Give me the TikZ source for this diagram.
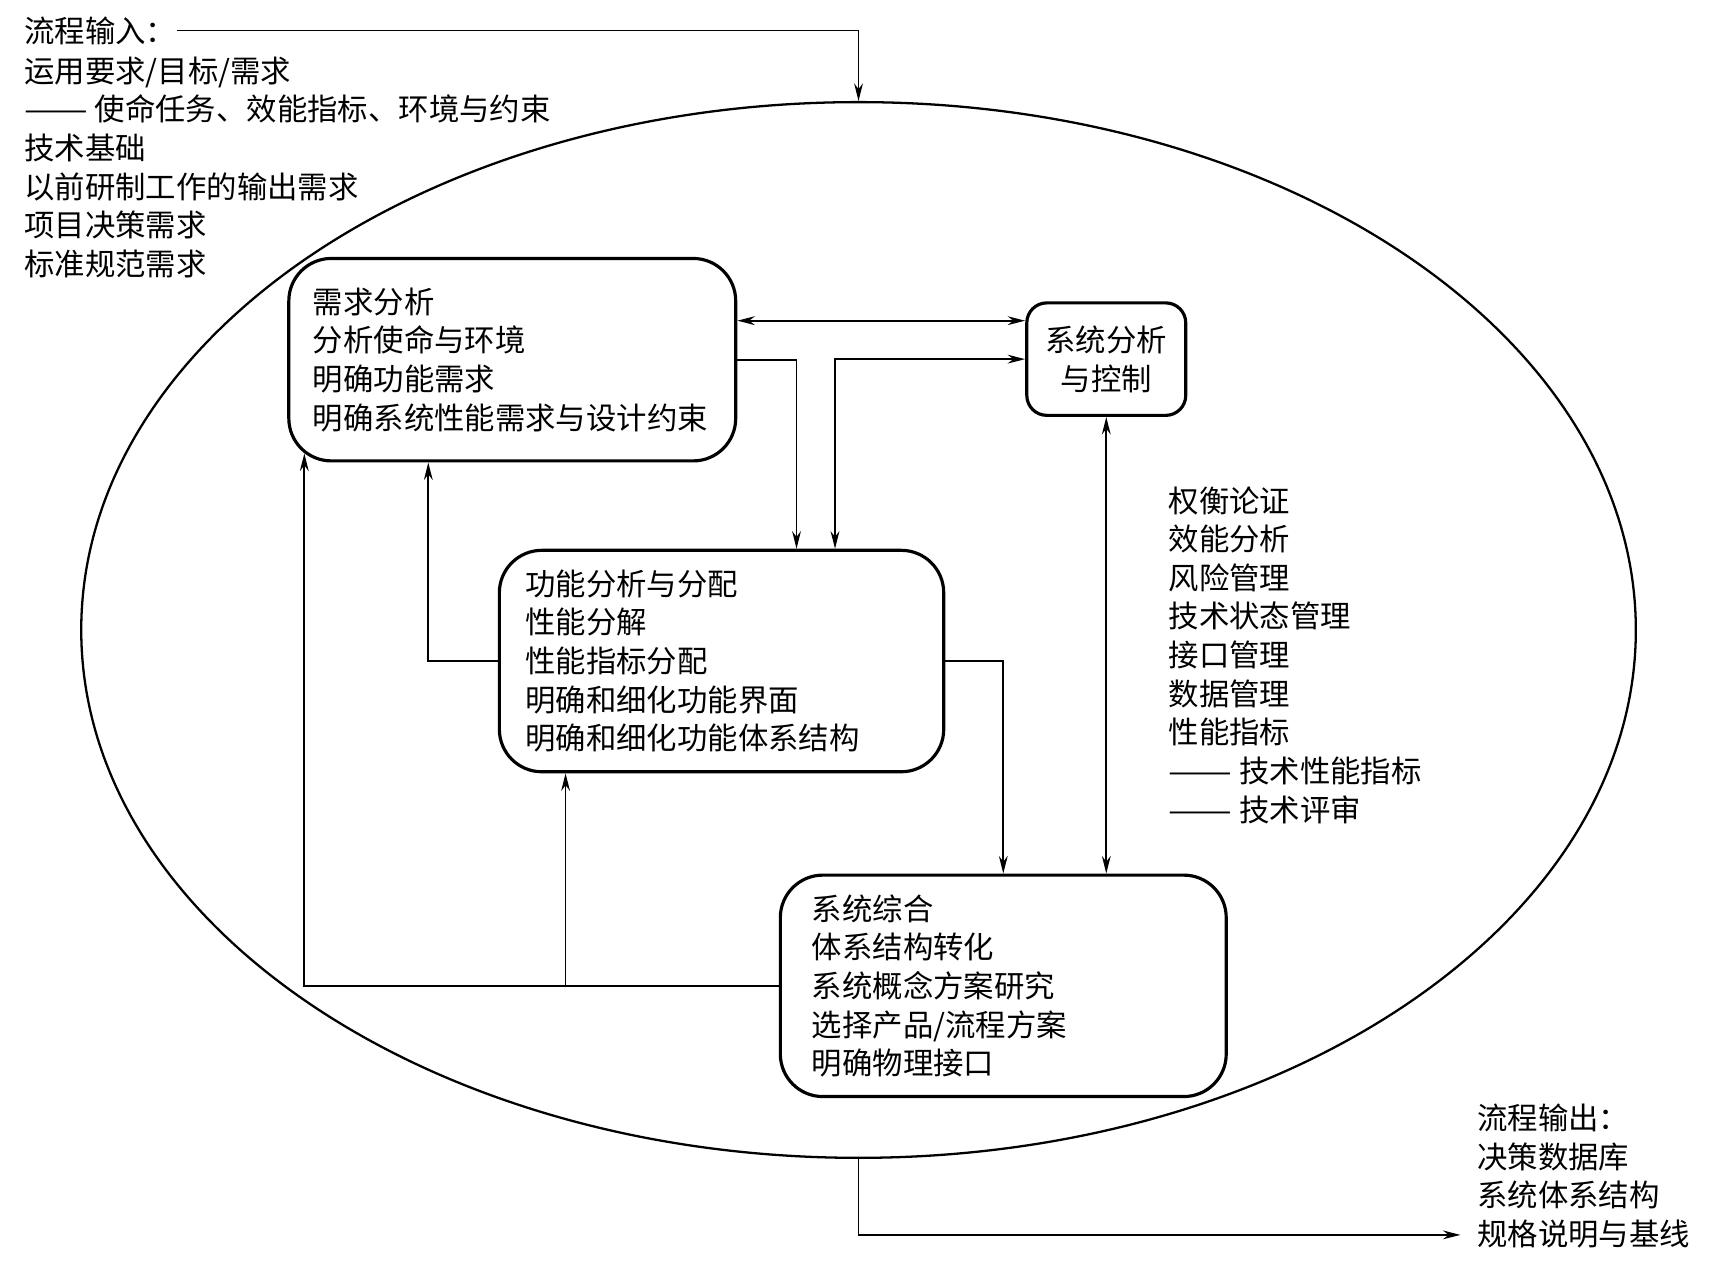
\documentclass[tikz,border=0pt]{standalone}
\usepackage{fontspec}
\setmainfont{Noto Sans CJK SC}
\usetikzlibrary{arrows.meta,shapes.geometric}

\newcommand\diagsize{\fontsize{17.3pt}{22pt}\selectfont}
\newcommand\longdash{\scalebox{1.25}[1]{——}}

\tikzset{
  procbox/.style={draw, line width=1.8pt, rounded corners=0.85cm, align=left, inner ysep=0pt},
  conn/.style={line width=1pt},
  textlist/.style={align=left, inner sep=0pt, anchor=west}
}

\begin{document}
\begin{tikzpicture}[x=0.0218cm, y=-0.0218cm, >={Stealth[length=10pt,width=5pt]},
    every node/.style={font=\diagsize}]
    \useasboundingbox (0,0) rectangle (1568,1167);

    % process boundary
    \node[ellipse, draw, line width=1.3pt, minimum width=31.1cm, minimum height=21.12cm,
      inner sep=0pt] (proc) at (787.7,578) {};

    % inputs and outputs
    \node[textlist] (intitle) at (22,28) {流程输入：};
    \node[textlist] (inlist) at (22,153.5) {运用要求/目标/需求\\
      \longdash{} 使命任务、效能指标、环境与约束\\
      技术基础\\
      以前研制工作的输出需求\\
      项目决策需求\\
      标准规范需求};
    \node[textlist] (outlist) at (1355,1079) {流程输出：\\
      决策数据库\\
      系统体系结构\\
      规格说明与基线};
    \coordinate (outend) at (1340,1133);

    % main steps
    \node[procbox, text width=7.98cm, inner xsep=0.48cm, minimum height=4.05cm] (req) at (470,330)
      {需求分析\\分析使命与环境\\明确功能需求\\明确系统性能需求与设计约束};
    \node[procbox, text width=7.85cm, inner xsep=0.52cm, minimum height=4.43cm] (func) at (662,606.5)
      {功能分析与分配\\性能分解\\性能指标分配\\明确和细化功能界面\\明确和细化功能体系结构};
    \node[procbox, text width=7.66cm, inner xsep=0.63cm, minimum height=4.43cm] (synth) at (920.5,904.5)
      {系统综合\\体系结构转化\\系统概念方案研究\\选择产品/流程方案\\明确物理接口};
    \node[procbox, align=center, rounded corners=0.4cm, minimum width=3.18cm, minimum height=2.25cm,
      inner xsep=0pt] (sactl) at (1015,329.5) {系统分析\\与控制};

    \node[textlist] (tradelist) at (1072,601) {权衡论证\\
      效能分析\\
      风险管理\\
      技术状态管理\\
      接口管理\\
      数据管理\\
      性能指标\\
      \longdash{} 技术性能指标\\
      \longdash{} 技术评审};

    % connections
    \draw[conn,->] (intitle.east) -| (proc.north);
    \draw[conn,->] (proc.south) |- (outend);
    \draw[conn,<->] ([yshift=0.78cm]req.east) -- ([yshift=0.78cm]req.east -| sactl.west);
    \draw[conn,->] (req.east) -| ([xshift=1.5cm]func.north);
    \draw[conn,<->] ([xshift=2.27cm]func.north) |- (sactl.west);
    \draw[conn,->] (func.west) -| ([xshift=-1.68cm]req.south);
    \draw[conn,->] (func.east) -| (synth.north);
    \draw[conn,<->] (sactl.south) -- (sactl.south |- synth.north);
    \draw[conn,->] (synth.west) -| ([xshift=-4.16cm,yshift=0.18cm]req.south);
    \draw[conn,->] ([xshift=-3.12cm]func.south |- synth.west) -- ([xshift=-3.12cm]func.south);
\end{tikzpicture}
\end{document}
